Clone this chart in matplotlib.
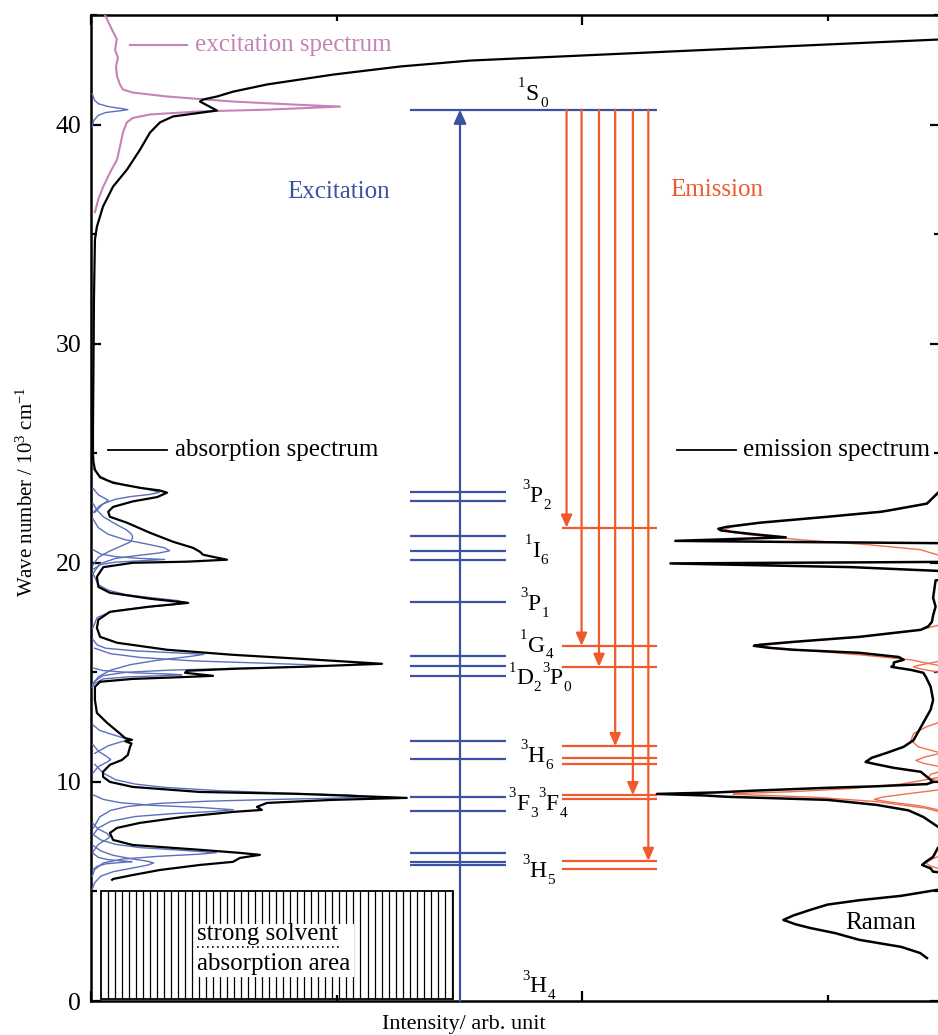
import re
import matplotlib
matplotlib.use('Agg')
import matplotlib.pyplot as plt
import numpy as np
from matplotlib.patches import Rectangle
from matplotlib.ticker import MultipleLocator

plt.rcParams['font.family'] = ['Liberation Serif', 'DejaVu Serif']
plt.rcParams['mathtext.fontset'] = 'custom'
plt.rcParams['mathtext.rm'] = 'Liberation Serif'
plt.rcParams['mathtext.it'] = 'Liberation Serif:italic'
plt.rcParams['mathtext.bf'] = 'Liberation Serif:bold'

# ---------------- data (wavenumber in 10^3 cm^-1, intensity arb.) ----------------
absorption = [
    (43.95, 3.75), (43.88, 3.45), (43.4, 2.49), (42.92, 1.544), (42.65, 1.259), (42.28, 0.986),
    (41.83, 0.717), (41.5, 0.578), (41.28, 0.513), (41.14, 0.456), (41.05, 0.444), (40.64, 0.513),
    (40.37, 0.334), (40.1, 0.281), (39.63, 0.240), (38.86, 0.2), (37.95, 0.147), (37.17, 0.09),
    (36.26, 0.049), (35.34, 0.024), (34.75, 0.016), (32.0, 0.012), (29.0, 0.01), (26.0, 0.008),
    (25.0, 0.008), (24.6, 0.01), (24.25, 0.016), (23.9, 0.037), (23.65, 0.09), (23.42, 0.2),
    (23.3, 0.28), (23.2, 0.31), (23.0, 0.27), (22.8, 0.17), (22.55, 0.09), (22.33, 0.07),
    (22.1, 0.077), (21.83, 0.146), (21.37, 0.24), (20.96, 0.334), (20.68, 0.416), (20.5, 0.444),
    (20.37, 0.456), (20.27, 0.497), (20.14, 0.554), (20.05, 0.39), (20.0, 0.17), (19.8, 0.05),
    (19.36, 0.024), (18.9, 0.03), (18.63, 0.077), (18.36, 0.24), (18.17, 0.396), (18.0, 0.24),
    (17.76, 0.077), (17.4, 0.03), (17.03, 0.024), (16.62, 0.037), (16.35, 0.106), (16.03, 0.31),
    (15.8, 0.578), (15.62, 0.851), (15.48, 1.055), (15.39, 1.185), (15.25, 0.85), (15.16, 0.58),
    (15.07, 0.39), (14.98, 0.383), (14.84, 0.497), (14.79, 0.39), (14.7, 0.17), (14.57, 0.037),
    (14.34, 0.016), (13.74, 0.016), (13.15, 0.024), (12.7, 0.065), (12.28, 0.11), (12.0, 0.139),
    (11.92, 0.167), (11.85, 0.14), (11.75, 0.165), (11.6, 0.159), (11.23, 0.15), (11.0, 0.126),
    (10.78, 0.077), (10.46, 0.049), (10.23, 0.049), (10.0, 0.077), (9.77, 0.17), (9.54, 0.444),
    (9.45, 0.851), (9.27, 1.286), (9.18, 0.986), (9.04, 0.717), (8.86, 0.676), (8.72, 0.696),
    (8.63, 0.578), (8.4, 0.375), (8.13, 0.2), (7.9, 0.106), (7.67, 0.077), (7.35, 0.09),
    (7.12, 0.17), (6.9, 0.444), (6.76, 0.607), (6.67, 0.688), (6.53, 0.607), (6.35, 0.578),
    (6.21, 0.444), (5.98, 0.281), (5.75, 0.17), (5.57, 0.09), (5.53, 0.086),
]

excitation = [
    (45.0, 0.057), (44.34, 0.085), (43.9, 0.105), (43.4, 0.098), (43.05, 0.11), (42.65, 0.102),
    (42.2, 0.106), (41.83, 0.118), (41.6, 0.13), (41.46, 0.17), (41.28, 0.31), (41.05, 0.578),
    (40.9, 0.85), (40.82, 1.014), (40.68, 0.717), (40.6, 0.444), (40.46, 0.24), (40.3, 0.17),
    (40.1, 0.146), (39.63, 0.13), (39.0, 0.118), (38.4, 0.106), (37.8, 0.077), (37.17, 0.05),
    (36.6, 0.03), (36.0, 0.016),
]

absorption_components = [
    [(41.4, 0.005), (41.1, 0.015), (40.95, 0.03), (40.82, 0.07), (40.72, 0.13), (40.68, 0.15), (40.63, 0.12), (40.55, 0.06), (40.42, 0.03), (40.2, 0.012), (39.9, 0.005)],
    [(24.3, 0.01), (24.0, 0.03), (23.75, 0.07), (23.55, 0.14), (23.38, 0.22), (23.22, 0.28), (23.12, 0.24), (23.02, 0.16), (22.9, 0.1), (22.7, 0.05), (22.3, 0.015)],
    [(23.4, 0.008), (23.1, 0.03), (22.95, 0.055), (22.85, 0.07), (22.72, 0.055), (22.6, 0.035), (22.3, 0.01)],
    [(22.7, 0.008), (22.4, 0.025), (22.1, 0.05), (21.8, 0.095), (21.5, 0.145), (21.3, 0.165), (21.15, 0.17), (20.95, 0.16), (20.75, 0.12), (20.5, 0.07), (20.25, 0.03), (19.9, 0.008)],
    [(22.0, 0.008), (21.6, 0.03), (21.3, 0.07), (21.05, 0.14), (20.85, 0.23), (20.68, 0.3), (20.55, 0.32), (20.45, 0.28), (20.32, 0.18), (20.2, 0.1), (19.95, 0.035), (19.5, 0.008)],
    [(20.6, 0.008), (20.4, 0.04), (20.28, 0.1), (20.2, 0.2), (20.15, 0.30), (20.1, 0.22), (20.03, 0.1), (19.92, 0.04), (19.7, 0.008)],
    [(19.5, 0.008), (19.0, 0.03), (18.75, 0.07), (18.55, 0.14), (18.4, 0.25), (18.28, 0.35), (18.18, 0.39), (18.08, 0.33), (17.95, 0.2), (17.8, 0.09), (17.5, 0.025), (17.0, 0.006)],
    [(16.5, 0.008), (16.25, 0.025), (16.1, 0.06), (15.98, 0.18), (15.88, 0.36), (15.82, 0.46), (15.72, 0.4), (15.55, 0.27), (15.35, 0.16), (15.1, 0.08), (14.8, 0.03), (14.5, 0.01)],
    [(16.1, 0.015), (15.85, 0.08), (15.68, 0.2), (15.52, 0.42), (15.42, 0.7), (15.34, 0.9), (15.3, 0.95), (15.25, 0.85), (15.18, 0.58), (15.1, 0.32), (15.0, 0.14), (14.85, 0.05), (14.6, 0.015), (14.3, 0.005)],
    [(15.2, 0.008), (15.08, 0.05), (14.98, 0.17), (14.92, 0.32), (14.89, 0.37), (14.85, 0.3), (14.79, 0.15), (14.7, 0.05), (14.45, 0.008)],
    [(12.6, 0.008), (12.35, 0.035), (12.15, 0.09), (11.98, 0.14), (11.92, 0.15), (11.82, 0.12), (11.65, 0.07), (11.3, 0.015)],
    [(11.7, 0.008), (11.4, 0.03), (11.15, 0.065), (11.02, 0.08), (10.9, 0.065), (10.7, 0.03), (10.4, 0.008)],
    [(10.8, 0.015), (10.4, 0.05), (10.1, 0.1), (9.9, 0.18), (9.75, 0.3), (9.6, 0.52), (9.48, 0.82), (9.4, 1.05), (9.32, 1.14), (9.26, 1.0), (9.2, 0.75), (9.12, 0.48), (9.02, 0.28), (8.88, 0.15), (8.7, 0.08), (8.4, 0.035), (7.9, 0.01)],
    [(9.4, 0.01), (9.2, 0.05), (9.05, 0.12), (8.93, 0.25), (8.83, 0.45), (8.73, 0.58), (8.65, 0.5), (8.55, 0.33), (8.42, 0.18), (8.2, 0.08), (7.9, 0.03), (7.6, 0.01)],
    [(7.6, 0.008), (7.35, 0.04), (7.15, 0.1), (7.0, 0.2), (6.88, 0.37), (6.77, 0.51), (6.7, 0.44), (6.6, 0.27), (6.48, 0.13), (6.3, 0.05), (6.0, 0.015), (5.7, 0.005)],
    [(6.75, 0.008), (6.55, 0.03), (6.45, 0.07), (6.39, 0.13), (6.36, 0.167), (6.32, 0.12), (6.26, 0.06), (6.15, 0.025), (6.0, 0.008)],
    [(7.1, 0.008), (6.85, 0.04), (6.65, 0.09), (6.5, 0.16), (6.38, 0.23), (6.3, 0.255), (6.2, 0.23), (6.05, 0.16), (5.9, 0.09), (5.7, 0.04), (5.4, 0.015), (5.1, 0.005)],
    [(8.1, 0.008), (7.85, 0.03), (7.65, 0.065), (7.5, 0.077), (7.35, 0.06), (7.15, 0.03), (6.8, 0.008)],
]

emission = [
    (23.6, 3.62), (23.2, 3.45), (22.7, 3.405), (22.33, 3.22), (22.1, 3.0), (21.83, 2.725),
    (21.64, 2.59), (21.55, 2.555), (21.48, 2.565), (21.4, 2.62), (21.28, 2.72), (21.16, 2.83),
    (21.0, 2.38), (20.95, 2.85), (20.88, 3.62), (20.05, 3.62), (19.97, 2.36), (19.8, 3.10),
    (19.63, 3.45), (19.45, 3.62), (19.3, 3.62), (19.2, 3.44), (18.8, 3.435), (18.4, 3.43),
    (18.0, 3.44), (17.6, 3.43), (17.3, 3.425), (17.1, 3.41), (16.94, 3.38), (16.62, 3.13),
    (16.39, 2.86), (16.26, 2.725), (16.21, 2.70), (16.12, 2.76), (16.03, 2.86), (15.89, 3.13),
    (15.7, 3.29), (15.57, 3.31), (15.45, 3.27), (15.34, 3.27), (15.25, 3.26), (15.11, 3.34),
    (14.98, 3.39), (14.8, 3.40), (14.34, 3.42), (13.74, 3.43), (13.3, 3.42), (12.7, 3.39),
    (12.3, 3.37), (11.9, 3.35), (11.6, 3.31), (11.32, 3.24), (11.1, 3.18), (10.91, 3.155),
    (10.8, 3.2), (10.64, 3.27), (10.46, 3.38), (10.23, 3.405), (10.0, 3.43), (9.9, 3.405),
    (9.8, 3.2), (9.73, 3.0), (9.6, 2.7), (9.52, 2.55), (9.45, 2.305), (9.38, 2.5), (9.32, 2.59),
    (9.18, 3.0), (8.95, 3.2), (8.7, 3.33), (8.4, 3.39), (7.95, 3.45), (7.7, 3.62), (7.1, 3.62),
    (7.0, 3.45), (6.58, 3.43), (6.35, 3.40), (6.21, 3.385), (6.05, 3.42), (5.9, 3.43),
    (5.7, 3.62), (5.2, 3.62), (5.07, 3.446), (4.8, 3.3), (4.6, 3.13), (4.4, 3.0), (4.16, 2.93),
    (3.9, 2.86), (3.7, 2.82), (3.5, 2.87), (3.33, 2.93), (3.1, 3.03), (2.79, 3.13), (2.47, 3.3),
    (2.19, 3.377), (1.96, 3.405),
]

emission_components = [
    [(23.3, 3.5), (23.1, 3.446), (22.7, 3.40), (22.4, 3.27), (22.1, 3.0), (21.83, 2.73), (21.64, 2.61), (21.5, 2.58), (21.4, 2.61), (21.28, 2.68), (21.05, 2.89), (20.82, 3.17), (20.6, 3.377), (20.37, 3.446), (20.2, 3.5)],
    [(17.3, 3.5), (16.94, 3.38), (16.62, 3.13), (16.39, 2.88), (16.25, 2.745), (16.21, 2.74), (16.15, 2.76), (16.03, 2.88), (15.8, 3.13), (15.57, 3.34), (15.34, 3.44), (15.2, 3.5)],
    [(15.6, 3.5), (15.45, 3.43), (15.32, 3.37), (15.25, 3.35), (15.18, 3.37), (15.05, 3.43), (14.9, 3.5)],
    [(12.9, 3.5), (12.5, 3.4), (12.2, 3.35), (11.9, 3.34), (11.6, 3.37), (11.2, 3.5)],
    [(11.4, 3.5), (11.15, 3.4), (10.98, 3.36), (10.85, 3.39), (10.6, 3.5)],
    [(10.6, 3.5), (10.35, 3.42), (10.15, 3.41), (9.95, 3.5)],
    [(10.3, 3.5), (9.9, 3.3), (9.7, 3.1), (9.55, 2.85), (9.47, 2.63), (9.44, 2.615), (9.40, 2.7), (9.3, 2.95), (9.1, 3.2), (8.8, 3.4), (8.5, 3.5)],
    [(9.7, 3.5), (9.45, 3.32), (9.3, 3.22), (9.2, 3.19), (9.1, 3.24), (8.9, 3.38), (8.6, 3.5)],
    [(6.8, 3.5), (6.5, 3.43), (6.3, 3.40), (6.15, 3.42), (5.9, 3.5)],
]

excitation_levels = [23.23, 22.82, 21.23, 20.53, 20.14, 18.21, 15.75, 15.31, 14.84,
                     11.87, 11.06, 9.30, 8.69, 6.77, 6.35, 6.22]
s0_level = 40.68
emission_levels = [21.60, 16.21, 15.25, 11.63, 11.08, 10.81, 9.39, 9.23, 6.39, 6.01]
emission_targets = [21.60, 16.21, 15.25, 11.63, 9.39, 6.39]

term_labels = ['^1S_0', '^3P_2', '^1I_6', '^3P_1', '^1G_4', '^1D_2^3P_0',
               '^3H_6', '^3F_3^3F_4', '^3H_5', '^3H_4']
term_label_wn = [41.14, 22.79, 20.27, 17.85, 15.95, 14.45, 10.91, 8.72, 5.66, 0.41]

# ---------------- styling ----------------
BLUE = '#3a52a3'
BLUE_THIN = '#5b6fbd'
RED = '#ee5a2c'
RED_THIN = '#f07050'
PINK = '#c583b6'

W, H = 938, 1035
fig = plt.figure(figsize=(W / 100, H / 100), dpi=100)
ax = fig.add_axes([91 / W, 34 / H, 849 / W, 986 / H])
ax.set_xlim(0, 3.458)
ax.set_ylim(0, 45)

# hatched solvent area
hx0, hx1, hy0, hy1 = 0.04, 1.474, 0.1, 5.02
ax.add_patch(Rectangle((hx0, hy0), hx1 - hx0, hy1 - hy0, fill=False, ec='black', lw=1.3, zorder=2))
ax.vlines(np.arange(hx0 + 0.028, hx1, 0.0286), hy0, hy1, color='black', lw=0.9, zorder=2)
ax.add_patch(Rectangle((0.43, 1.08), 0.64, 2.45, fc='white', ec='none', zorder=3))
ax.text(0.432, 2.79, 'strong solvent', fontsize=18, va='baseline', ha='left', zorder=4)
ax.text(0.432, 1.42, 'absorption area', fontsize=18, va='baseline', ha='left', zorder=4)
ax.plot([0.432, 1.01], [2.47, 2.47], ls=(0, (1, 2)), color='black', lw=1.2, zorder=4)

# components
for comp in absorption_components:
    wn, it = np.array(comp).T
    ax.plot(it, wn, color=BLUE_THIN, lw=1.0, zorder=3)
for comp in emission_components:
    wn, it = np.array(comp).T
    ax.plot(it, wn, color=RED_THIN, lw=1.0, zorder=3)

wn, it = np.array(excitation).T
ax.plot(it, wn, color=PINK, lw=1.5, zorder=4)
wn, it = np.array(absorption).T
ax.plot(it, wn, color='black', lw=1.6, zorder=4)
wn, it = np.array(emission).T
ax.plot(it, wn, color='black', lw=1.8, zorder=4)

# energy levels
ax.hlines(excitation_levels, 1.30, 1.69, color=BLUE, lw=1.6, zorder=3)
ax.hlines([s0_level], 1.30, 2.304, color=BLUE, lw=1.6, zorder=3)
ax.hlines(emission_levels, 1.917, 2.304, color=RED, lw=1.6, zorder=3)

# excitation arrow
ax.annotate('', xy=(1.503, s0_level), xytext=(1.503, 0.0),
            arrowprops=dict(arrowstyle='-|>,head_length=0.55,head_width=0.25', color=BLUE,
                            lw=1.6, shrinkA=0, shrinkB=0, mutation_scale=15), zorder=5)
# emission arrows
arrow_x = [1.937, 1.998, 2.069, 2.135, 2.207, 2.270]
for xa, tgt in zip(arrow_x, emission_targets):
    ax.annotate('', xy=(xa, tgt), xytext=(xa, s0_level),
                arrowprops=dict(arrowstyle='-|>,head_length=0.5,head_width=0.22', color=RED,
                                lw=1.6, shrinkA=0, shrinkB=0, mutation_scale=15), zorder=5)

# term labels built from pieces (superscript / main / subscript)
SIZE = {'sup': 10.5, 'main': 17, 'sub': 11}
DY = {'sup': 9, 'main': 0, 'sub': -5}
GAP = {'sup': 0.4, 'main': 0.2, 'sub': 0.6}


def term_label(x, y, spec):
    prev = None
    for sup, main, sub in re.findall(r'(\^\w)|([A-Z])|(_\w)', spec):
        if sup:
            txt, kind = sup[1], 'sup'
        elif sub:
            txt, kind = sub[1], 'sub'
        else:
            txt, kind = main, 'main'
        if prev is None:
            a = ax.annotate(txt, xy=(x, y), xycoords='data', xytext=(0, DY[kind]),
                            textcoords='offset points', fontsize=SIZE[kind],
                            ha='left', va='baseline', zorder=6)
        else:
            a = ax.annotate(txt, xy=(1, y), xycoords=(prev, 'data'), xytext=(GAP[kind], DY[kind]),
                            textcoords='offset points', fontsize=SIZE[kind],
                            ha='left', va='baseline', zorder=6)
        prev = a


label_x = [1.74, 1.755, 1.765, 1.748, 1.748, 1.70, 1.748, 1.70, 1.755, 1.755]
for lx, ly, t in zip(label_x, term_label_wn, term_labels):
    term_label(lx, ly, t)

ax.text(1.01, 36.9, 'Excitation', color=BLUE, fontsize=18, ha='center', va='center')
ax.text(2.55, 37.0, 'Emission', color=RED, fontsize=18, ha='center', va='center')
ax.text(3.07, 3.55, 'Raman', fontsize=18, ha='left', va='center')

# in-plot legends
ax.plot([0.16, 0.39], [43.65, 43.65], color=PINK, lw=1.5)
ax.text(0.425, 43.65, 'excitation spectrum', color=PINK, fontsize=18, ha='left', va='center')
ax.plot([0.07, 0.31], [25.16, 25.16], color='black', lw=1.3)
ax.text(0.342, 25.16, 'absorption spectrum', fontsize=18, ha='left', va='center')
ax.plot([2.387, 2.627], [25.13, 25.13], color='black', lw=1.3)
ax.text(2.655, 25.13, 'emission spectrum', fontsize=18, ha='left', va='center')

# axes styling
for s in ax.spines.values():
    s.set_linewidth(1.8)
ax.xaxis.set_major_locator(MultipleLocator(2))
ax.xaxis.set_minor_locator(MultipleLocator(1))
ax.yaxis.set_major_locator(MultipleLocator(10))
ax.yaxis.set_minor_locator(MultipleLocator(5))
ax.tick_params(which='both', direction='in', top=True, right=True, width=1.6)
ax.tick_params(which='major', length=7)
ax.tick_params(which='minor', length=4.5)
ax.tick_params(axis='x', which='both', labelbottom=False)
ax.tick_params(axis='y', labelsize=18.5, pad=7)

fig.text(464 / W, 1 - 1024 / H, 'Intensity/ arb. unit', fontsize=16, ha='center', va='center')
fig.text(27 / W, 1 - 492 / H, r'Wave number / 10$^{3}$ cm$^{-1}$', fontsize=15,
         ha='center', va='center', rotation=90)

fig.savefig('out.png', dpi=100)
